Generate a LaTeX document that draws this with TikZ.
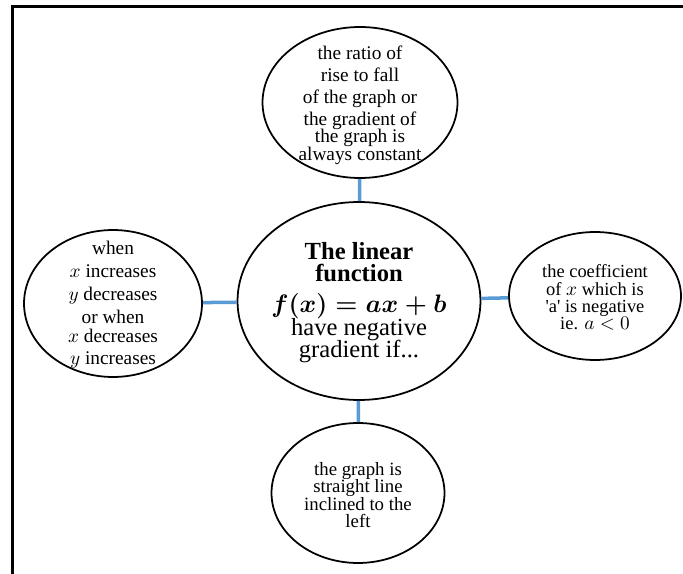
\documentclass[tikz,border=0pt]{standalone}
\usepackage{amsmath}
\usepackage{amssymb}
\usepackage{fontspec}
\setmainfont{Liberation Serif}
\usetikzlibrary{shapes.geometric}
\definecolor{linkblue}{RGB}{91,155,213}
\lineskiplimit=-20pt\relax

\begin{document}
\begin{tikzpicture}[x=0.02cm,y=-0.02cm,
	bubble/.style={ellipse,draw,line width=1pt,inner sep=0pt},
	words/.style={align=center,inner sep=0pt},
	link/.style={draw=linkblue,line width=2pt}]
	\useasboundingbox (0,0) rectangle (683,574);
	\draw[line width=1.8pt] (12.5,574) -- (12.5,6.5) -- (683,6.5);
	\node[bubble,minimum width=3.9cm,minimum height=3.02cm] (top) at (360,102.5) {};
	\node[bubble,minimum width=4.86cm,minimum height=3.96cm] (main) at (359,301) {};
	\node[bubble,minimum width=3.56cm,minimum height=2.94cm] (left) at (113,303.5) {};
	\node[bubble,minimum width=3.44cm,minimum height=2.56cm] (right) at (595,296) {};
	\node[bubble,minimum width=3.46cm,minimum height=2.8cm] (bottom) at (358,493) {};
	\node[words,font=\fontsize{11}{12.5}\selectfont] (top text) at (360,105)
		{the ratio of\\rise to fall\\of the graph or\\the gradient of\\[-2.5pt]the graph is\\[-2.5pt]always constant};
	\node[words,font=\fontsize{14}{12.5}\selectfont] (main text) at (359,303)
		{\textbf{The linear}\\\textbf{function}\\[5pt]{\boldmath$f(x)=ax+b$}\\[0.5pt]have negative\\[0.3pt]gradient\ if...};
	\node[words,font=\fontsize{11}{12.5}\selectfont] (left text) at (113,304.5)
		{when\\[0.5pt]$x$ increases\\[0.5pt]$y$ decreases\\[1pt]or when\\[-2pt]$x$ decreases\\$y$ increases};
	\node[words,font=\fontsize{10.5}{9.8}\selectfont] (right text) at (595,297.5)
		{the coefficient\\of $x$ which is\\\textquotesingle a\textquotesingle\ is negative\\ie. $a<0$};
	\node[words,font=\fontsize{10.7}{9.8}\selectfont] (bottom text) at (358,495)
		{the graph is\\straight line\\inclined to the\\left};
	\draw[link] (top) -- (main);
	\draw[link] (main) -- (bottom);
	\draw[link] (left) -- (main);
	\draw[link] (main) -- (right);
\end{tikzpicture}
\end{document}
